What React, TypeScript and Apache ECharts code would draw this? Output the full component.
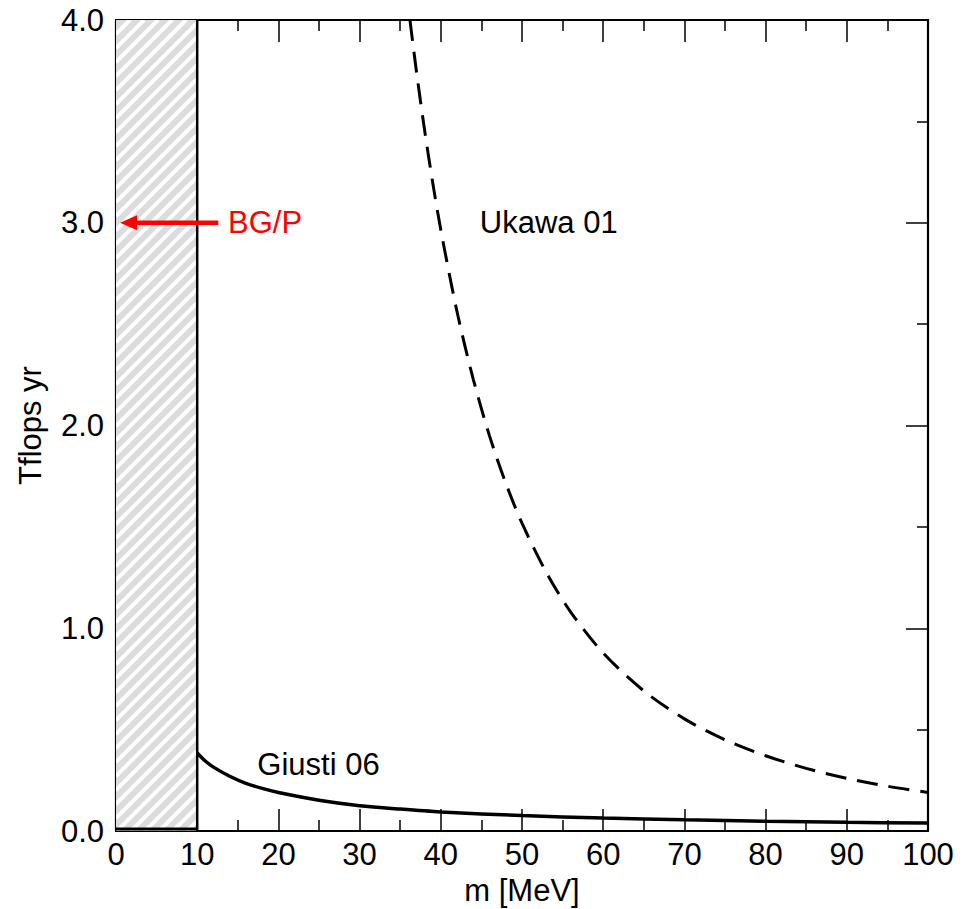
import React, { useEffect, useRef } from "react";
import * as echarts from "echarts";

const ukawaM = [36.2, 37, 38, 39, 40, 42, 44, 46, 48, 50, 53, 56, 60, 65, 70, 75, 80, 85, 90, 95, 100];
const ukawaCost = [4.0, 3.746, 3.458, 3.199, 2.965, 2.561, 2.228, 1.949, 1.716, 1.518, 1.275, 1.08, 0.878, 0.691, 0.553, 0.45, 0.371, 0.309, 0.26, 0.221, 0.19];

const giustiM = [10, 11, 12, 14, 16, 18, 20, 25, 30, 35, 40, 50, 60, 70, 80, 90, 100];
const giustiCost = [0.385, 0.345, 0.315, 0.27, 0.235, 0.21, 0.19, 0.152, 0.125, 0.108, 0.094, 0.076, 0.064, 0.055, 0.048, 0.043, 0.039];

const excludedRegion = [[0, 10, 0, 4]]; // xMin, xMax, yMin, yMax
const bgpLevel = 3.0;

const xTicks = { min: 0, max: 100, interval: 10 };
const yTicks = { min: 0, max: 4, interval: 1 };

const FONT = "Liberation Sans, Arial, sans-serif";
const FS = 31;

export default function App() {
  const ref = useRef<HTMLDivElement>(null);
  useEffect(() => {
    if (!ref.current) return;
    document.body.style.margin = "0";
    const chart = echarts.init(ref.current, null, { renderer: "svg" });
    const axisLine = { show: true, onZero: false, lineStyle: { color: "#000", width: 2.2 } };
    const tick = { show: true, inside: true, length: 22, lineStyle: { color: "#000", width: 1.5 } };
    const minor = { show: true, splitNumber: 2, length: 11, lineStyle: { color: "#000", width: 1.5 } };
    chart.setOption({
      animation: false,
      backgroundColor: "#fff",
      grid: { left: 116, right: 41, top: 20, bottom: 78, containLabel: false, outerBoundsMode: "none" },
      xAxis: [
        {
          type: "value", position: "bottom", ...xTicks,
          axisLine, axisTick: tick, minorTick: minor, splitLine: { show: false },
          axisLabel: { fontSize: FS, color: "#000", fontFamily: FONT, margin: 8 },
          name: "m [MeV]", nameLocation: "middle", nameGap: 43,
          nameTextStyle: { fontSize: FS, color: "#000", fontFamily: FONT },
        },
        {
          type: "value", position: "top", ...xTicks,
          axisLine, axisTick: tick, minorTick: minor, splitLine: { show: false },
          axisLabel: { show: false },
        },
      ],
      yAxis: [
        {
          type: "value", position: "left", ...yTicks,
          axisLine, axisTick: tick, minorTick: minor, splitLine: { show: false },
          axisLabel: { fontSize: FS, color: "#000", fontFamily: FONT, margin: 12, formatter: (v: number) => v.toFixed(1) },
          name: "Tflops yr", nameLocation: "middle", nameGap: 70, nameRotate: 90,
          nameTextStyle: { fontSize: FS, color: "#000", fontFamily: FONT },
        },
        {
          type: "value", position: "right", ...yTicks,
          axisLine, axisTick: tick, minorTick: minor, splitLine: { show: false },
          axisLabel: { show: false },
        },
      ],
      series: [
        {
          type: "custom",
          xAxisIndex: 0, yAxisIndex: 0,
          clip: true,
          data: excludedRegion,
          renderItem: (params: any, api: any) => {
            const p0 = api.coord([api.value(0), api.value(3)]);
            const p1 = api.coord([api.value(1), api.value(2)]);
            const L = p0[0], T = p0[1], R = p1[0], B = p1[1];
            const children: any[] = [
              { type: "rect", shape: { x: L, y: T, width: R - L, height: B - T }, style: { fill: "#dcdcdc" } },
            ];
            const step = 14;
            for (let c = L + T; c < R + B + step; c += step) {
              const xa = Math.max(L, c - B);
              const xb = Math.min(R, c - T);
              if (xa < xb) {
                children.push({
                  type: "line",
                  shape: { x1: xa, y1: c - xa, x2: xb, y2: c - xb },
                  style: { stroke: "#ffffff", lineWidth: 4 },
                });
              }
            }
            children.push({ type: "line", shape: { x1: R, y1: T, x2: R, y2: B }, style: { stroke: "#000", lineWidth: 2.5 } });
            children.push({ type: "line", shape: { x1: L, y1: B - 2, x2: R, y2: B - 2 }, style: { stroke: "#000", lineWidth: 3 } });
            return { type: "group", children };
          },
          z: 1,
        },
        {
          type: "line",
          name: "Ukawa 01",
          data: ukawaM.map((m, i) => [m, ukawaCost[i]]),
          showSymbol: false, symbol: "none", smooth: 0.3,
          lineStyle: { color: "#000", width: 3, type: [21, 11] },
          z: 3,
        },
        {
          type: "line",
          name: "Giusti 06",
          data: giustiM.map((m, i) => [m, giustiCost[i]]),
          showSymbol: false, symbol: "none", smooth: 0.3,
          lineStyle: { color: "#000", width: 3.5 },
          z: 3,
        },
      ],
    });

    const px = (x: number, y: number) => chart.convertToPixel({ xAxisIndex: 0, yAxisIndex: 0 }, [x, y]) as number[];
    const ukLab = px(44.8, 3.0);
    const giLab = px(17.4, 0.33);
    const bgLab = px(13.8, bgpLevel);
    const arStart = px(12.6, bgpLevel);
    const arEnd = px(0.5, bgpLevel);
    const textStyle = { fontSize: FS, fill: "#000", fontFamily: FONT, verticalAlign: "middle", align: "left" };
    chart.setOption({
      graphic: [
        { type: "text", x: ukLab[0], y: ukLab[1], style: { ...textStyle, text: "Ukawa 01" }, z: 10 },
        { type: "text", x: giLab[0], y: giLab[1], style: { ...textStyle, text: "Giusti 06" }, z: 10 },
        { type: "text", x: bgLab[0], y: bgLab[1], style: { ...textStyle, fill: "#ff0000", text: "BG/P" }, z: 10 },
        {
          type: "line",
          shape: { x1: arStart[0], y1: arStart[1], x2: arEnd[0] + 14, y2: arEnd[1] },
          style: { stroke: "#ff0000", lineWidth: 4.5 }, z: 10,
        },
        {
          type: "polygon",
          shape: { points: [[arEnd[0], arEnd[1]], [arEnd[0] + 17, arEnd[1] - 7.5], [arEnd[0] + 17, arEnd[1] + 7.5]] },
          style: { fill: "#ff0000" }, z: 10,
        },
      ],
    });
    return () => chart.dispose();
  }, []);
  return <div ref={ref} style={{ width: 969, height: 909 }} />;
}
